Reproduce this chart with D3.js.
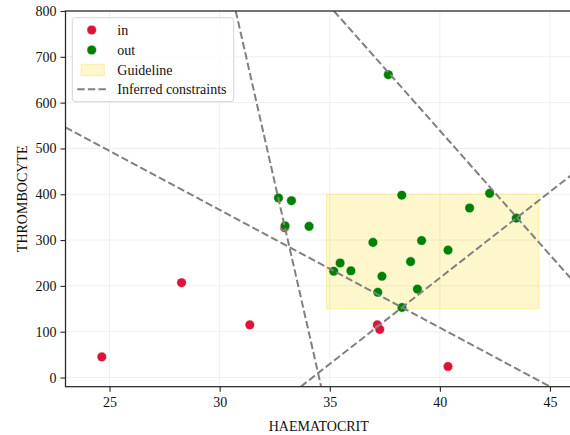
<!DOCTYPE html>
<html>
<head>
<meta charset="utf-8">
<script src="https://cdn.jsdelivr.net/npm/d3@7"></script>
<style>
  body { margin: 0; background: #fff; }
  svg { font-family: "Liberation Serif", "DejaVu Serif", serif; }
</style>
</head>
<body>
<svg id="chart" width="570" height="435"></svg>
<script>
// points inside / outside the guideline
const inX = [24.65, 28.27, 31.37, 32.95, 37.16, 37.27, 40.37];
const inY = [45, 207, 115, 327, 115, 105, 24];

const outX = [37.66, 32.67, 33.26, 38.27, 32.97, 34.06, 42.26, 41.35, 43.47, 36.96,
              39.17, 40.37, 35.47, 35.18, 35.96, 38.67, 37.37, 37.18, 38.98, 38.28];
const outY = [661, 392, 386, 398, 331, 330, 402, 370, 348, 295,
              299, 278, 250, 232, 233, 253, 221, 186, 193, 153];

// guideline box
const guideX = [34.85, 44.5];
const guideY = [150, 400];

// inferred constraint lines, each given by two points
const lineX1 = [30.73, 35.19, 23, 33.68];
const lineY1 = [800, 800, 546, -20];
const lineX2 = [34.61, 50.3, 45, 46];
const lineY2 = [-20, -20, -20, 443];

const xTicks = [25, 30, 35, 40, 45];
const yTicks = [0, 100, 200, 300, 400, 500, 600, 700, 800];

const IN_COLOR = "#dc143c";
const OUT_COLOR = "#008000";
const LINE_COLOR = "#808080";

const margin = { left: 65.5, top: 11, right: 572, bottom: 386.7 };

const svg = d3.select("#chart");

const x = d3.scaleLinear().domain([23, 46]).range([margin.left, margin.right]);
const y = d3.scaleLinear().domain([-20, 800]).range([margin.bottom, margin.top]);

svg.append("defs").append("clipPath")
    .attr("id", "plot-clip")
    .append("rect")
    .attr("x", margin.left).attr("y", margin.top)
    .attr("width", margin.right - margin.left)
    .attr("height", margin.bottom - margin.top);

// grid
const grid = svg.append("g").attr("class", "grid");
grid.selectAll(".gx").data(xTicks).enter().append("line")
    .attr("x1", (d) => x(d)).attr("x2", (d) => x(d))
    .attr("y1", margin.top).attr("y2", margin.bottom)
    .attr("stroke", "#efefef").attr("stroke-width", 1);
grid.selectAll(".gy").data(yTicks).enter().append("line")
    .attr("y1", (d) => y(d)).attr("y2", (d) => y(d))
    .attr("x1", margin.left).attr("x2", margin.right)
    .attr("stroke", "#efefef").attr("stroke-width", 1);

const plot = svg.append("g").attr("clip-path", "url(#plot-clip)");

// guideline
plot.append("rect")
    .attr("x", x(guideX[0]))
    .attr("y", y(guideY[1]))
    .attr("width", x(guideX[1]) - x(guideX[0]))
    .attr("height", y(guideY[0]) - y(guideY[1]))
    .attr("fill", "rgba(255, 215, 0, 0.2)")
    .attr("stroke", "rgba(240, 200, 0, 0.25)")
    .attr("stroke-width", 1);

// points
plot.selectAll(".in").data(d3.range(inX.length)).enter().append("circle")
    .attr("cx", (i) => x(inX[i])).attr("cy", (i) => y(inY[i]))
    .attr("r", 4.8).attr("fill", IN_COLOR)
    .attr("stroke", "#fff").attr("stroke-width", 0.5);

plot.selectAll(".out").data(d3.range(outX.length)).enter().append("circle")
    .attr("cx", (i) => x(outX[i])).attr("cy", (i) => y(outY[i]))
    .attr("r", 4.8).attr("fill", OUT_COLOR)
    .attr("stroke", "#fff").attr("stroke-width", 0.5);

// constraints
plot.selectAll(".constraint").data(d3.range(lineX1.length)).enter().append("line")
    .attr("x1", (i) => x(lineX1[i])).attr("y1", (i) => y(lineY1[i]))
    .attr("x2", (i) => x(lineX2[i])).attr("y2", (i) => y(lineY2[i]))
    .attr("stroke", LINE_COLOR).attr("stroke-width", 2)
    .attr("stroke-dasharray", "7.4,3.2");

// axes
const xAxis = svg.append("g")
    .attr("transform", "translate(0," + margin.bottom + ")")
    .call(d3.axisBottom(x).tickValues(xTicks).tickSize(5).tickPadding(5));
const yAxis = svg.append("g")
    .attr("transform", "translate(" + margin.left + ",0)")
    .call(d3.axisLeft(y).tickValues(yTicks).tickSize(5).tickPadding(4));

[xAxis, yAxis].forEach((a) => {
    a.select(".domain").attr("stroke", "#262626").attr("stroke-width", 1.25)
        .attr("d", null);
    a.selectAll(".tick line").attr("stroke", "#262626").attr("stroke-width", 1.1);
    a.selectAll("text").attr("fill", "#111").style("font-size", "14px")
        .style("font-family", "'Liberation Serif', serif");
});

// spines (full frame)
svg.append("rect")
    .attr("x", margin.left).attr("y", margin.top)
    .attr("width", margin.right - margin.left)
    .attr("height", margin.bottom - margin.top)
    .attr("fill", "none").attr("stroke", "#262626").attr("stroke-width", 1.25);

svg.append("text")
    .attr("x", (margin.left + margin.right) / 2).attr("y", 431)
    .attr("text-anchor", "middle").style("font-size", "14px").attr("fill", "#111")
    .text("HAEMATOCRIT");

svg.append("text")
    .attr("transform", "translate(27," + (margin.top + margin.bottom) / 2 + ") rotate(-90)")
    .attr("text-anchor", "middle").style("font-size", "14px").attr("fill", "#111")
    .text("THROMBOCYTE");

// legend
const legend = svg.append("g").attr("transform", "translate(72.3,17.7)");
legend.append("rect")
    .attr("width", 161.4).attr("height", 84).attr("rx", 3)
    .attr("fill", "rgba(255,255,255,0.8)").attr("stroke", "#d6d6d6").attr("stroke-width", 1);

const legendLabels = ["in", "out", "Guideline", "Inferred constraints"];
const legendRows = [12.3, 32.3, 52.3, 71.6];

legend.append("circle").attr("cx", 19.4).attr("cy", legendRows[0]).attr("r", 4.8)
    .attr("fill", IN_COLOR).attr("stroke", "#fff").attr("stroke-width", 0.5);
legend.append("circle").attr("cx", 19.4).attr("cy", legendRows[1]).attr("r", 4.8)
    .attr("fill", OUT_COLOR).attr("stroke", "#fff").attr("stroke-width", 0.5);
legend.append("rect").attr("x", 8.7).attr("y", legendRows[2] - 5.8)
    .attr("width", 23.3).attr("height", 11.6)
    .attr("fill", "rgba(255, 215, 0, 0.2)").attr("stroke", "rgba(240, 200, 0, 0.25)");
legend.append("line").attr("x1", 5).attr("x2", 34.4)
    .attr("y1", legendRows[3]).attr("y2", legendRows[3])
    .attr("stroke", LINE_COLOR).attr("stroke-width", 2).attr("stroke-dasharray", "7.4,3.2");

legend.selectAll(".label").data(legendLabels).enter().append("text")
    .attr("x", 45).attr("y", (d, i) => legendRows[i] + 4.8)
    .style("font-size", "14px").attr("fill", "#111")
    .text((d) => d);
</script>
</body>
</html>
